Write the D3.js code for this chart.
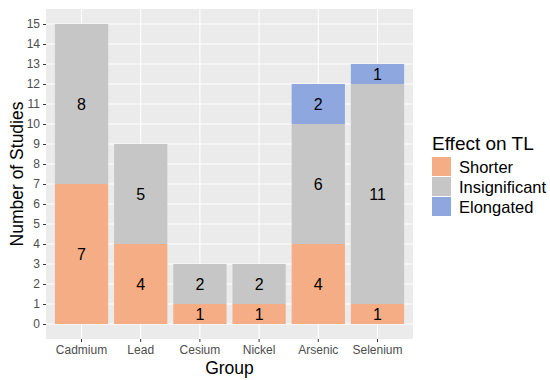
<!DOCTYPE html>
<html>
<head>
<meta charset="utf-8">
<script src="https://cdn.jsdelivr.net/npm/d3@7"></script>
<style>
  body { margin: 0; background: #fff; }
  text { font-family: "Liberation Sans", Arial, sans-serif; }
</style>
</head>
<body>
<div id="chart"></div>
<script>
// data
var groups = ["Cadmium", "Lead", "Cesium", "Nickel", "Arsenic", "Selenium"];
var effects = ["Shorter", "Insignificant", "Elongated"];
var shorter = [7, 4, 1, 1, 4, 1];
var insignificant = [8, 5, 2, 2, 6, 11];
var elongated = [0, 0, 0, 0, 2, 1];
var yTicks = d3.range(0, 16);
var colors = ["#f4ad85", "#c6c6c6", "#8ea8df"];

var width = 550, height = 380;
var panel = { left: 46, right: 413, top: 9, bottom: 339 };

var svg = d3.select("#chart").append("svg")
    .attr("width", width)
    .attr("height", height);

// build rows for stack
var rows = groups.map(function (g, i) {
    return { group: g, Shorter: shorter[i], Insignificant: insignificant[i], Elongated: elongated[i] };
});
var series = d3.stack().keys(effects)(rows);

var x = d3.scaleBand()
    .domain(groups)
    .range([panel.left, panel.right])
    .paddingInner(0.1)
    .paddingOuter(0.15);

var y = d3.scaleLinear()
    .domain([-0.75, 15.75])
    .range([panel.bottom, panel.top]);

var color = d3.scaleOrdinal().domain(effects).range(colors);

// panel
svg.append("rect")
    .attr("x", panel.left).attr("y", panel.top)
    .attr("width", panel.right - panel.left)
    .attr("height", panel.bottom - panel.top)
    .attr("fill", "#ebebeb");

// grid
svg.append("g").selectAll("line")
    .data(yTicks).enter().append("line")
    .attr("x1", panel.left).attr("x2", panel.right)
    .attr("y1", function (d) { return y(d); })
    .attr("y2", function (d) { return y(d); })
    .attr("stroke", "#fff").attr("stroke-width", 1.1);

svg.append("g").selectAll("line")
    .data(groups).enter().append("line")
    .attr("x1", function (d) { return x(d) + x.bandwidth() / 2; })
    .attr("x2", function (d) { return x(d) + x.bandwidth() / 2; })
    .attr("y1", panel.top).attr("y2", panel.bottom)
    .attr("stroke", "#fff").attr("stroke-width", 1.1);

// bars
var layer = svg.append("g").selectAll("g")
    .data(series).enter().append("g")
    .attr("fill", function (d) { return color(d.key); });

layer.selectAll("rect")
    .data(function (d) { return d; })
    .enter().append("rect")
    .attr("x", function (d) { return x(d.data.group); })
    .attr("width", x.bandwidth())
    .attr("y", function (d) { return y(d[1]); })
    .attr("height", function (d) { return y(d[0]) - y(d[1]); });

// labels in segments
series.forEach(function (s) {
    svg.append("g").selectAll("text")
        .data(s.filter(function (d) { return d[1] - d[0] > 0; }))
        .enter().append("text")
        .attr("x", function (d) { return x(d.data.group) + x.bandwidth() / 2; })
        .attr("y", function (d) { return y((d[0] + d[1]) / 2); })
        .attr("dy", "0.36em")
        .attr("text-anchor", "middle")
        .attr("font-size", 16)
        .attr("fill", "#000")
        .text(function (d) { return d[1] - d[0]; });
});

// axes
var yAxis = svg.append("g")
    .attr("transform", "translate(" + panel.left + ",0)")
    .call(d3.axisLeft(y).tickValues(yTicks).tickSize(3).tickPadding(3));
var xAxis = svg.append("g")
    .attr("transform", "translate(0," + panel.bottom + ")")
    .call(d3.axisBottom(x).tickSize(3).tickPadding(3));

[yAxis, xAxis].forEach(function (a) {
    a.select(".domain").remove();
    a.selectAll(".tick line").attr("stroke", "#333");
    a.selectAll(".tick text")
        .attr("fill", "#4d4d4d")
        .attr("font-size", 12)
        .style("font-family", "'Liberation Sans', Arial, sans-serif");
});

// axis titles
svg.append("text")
    .attr("x", (panel.left + panel.right) / 2)
    .attr("y", 374)
    .attr("text-anchor", "middle")
    .attr("font-size", 17.5)
    .text("Group");

svg.append("text")
    .attr("transform", "translate(23," + (panel.top + panel.bottom) / 2 + ") rotate(-90)")
    .attr("text-anchor", "middle")
    .attr("font-size", 17.5)
    .text("Number of Studies");

// legend
var legend = svg.append("g").attr("transform", "translate(432,0)");
legend.append("text")
    .attr("x", 0).attr("y", 150)
    .attr("font-size", 19)
    .text("Effect on TL");

var item = legend.selectAll("g.item")
    .data(effects).enter().append("g")
    .attr("class", "item")
    .attr("transform", function (d, i) { return "translate(0," + (157 + i * 20) + ")"; });

item.append("rect")
    .attr("width", 19).attr("height", 19)
    .attr("fill", function (d) { return color(d); });

item.append("text")
    .attr("x", 27).attr("y", 10)
    .attr("dy", "0.36em")
    .attr("font-size", 16.5)
    .text(function (d) { return d; });
</script>
</body>
</html>
